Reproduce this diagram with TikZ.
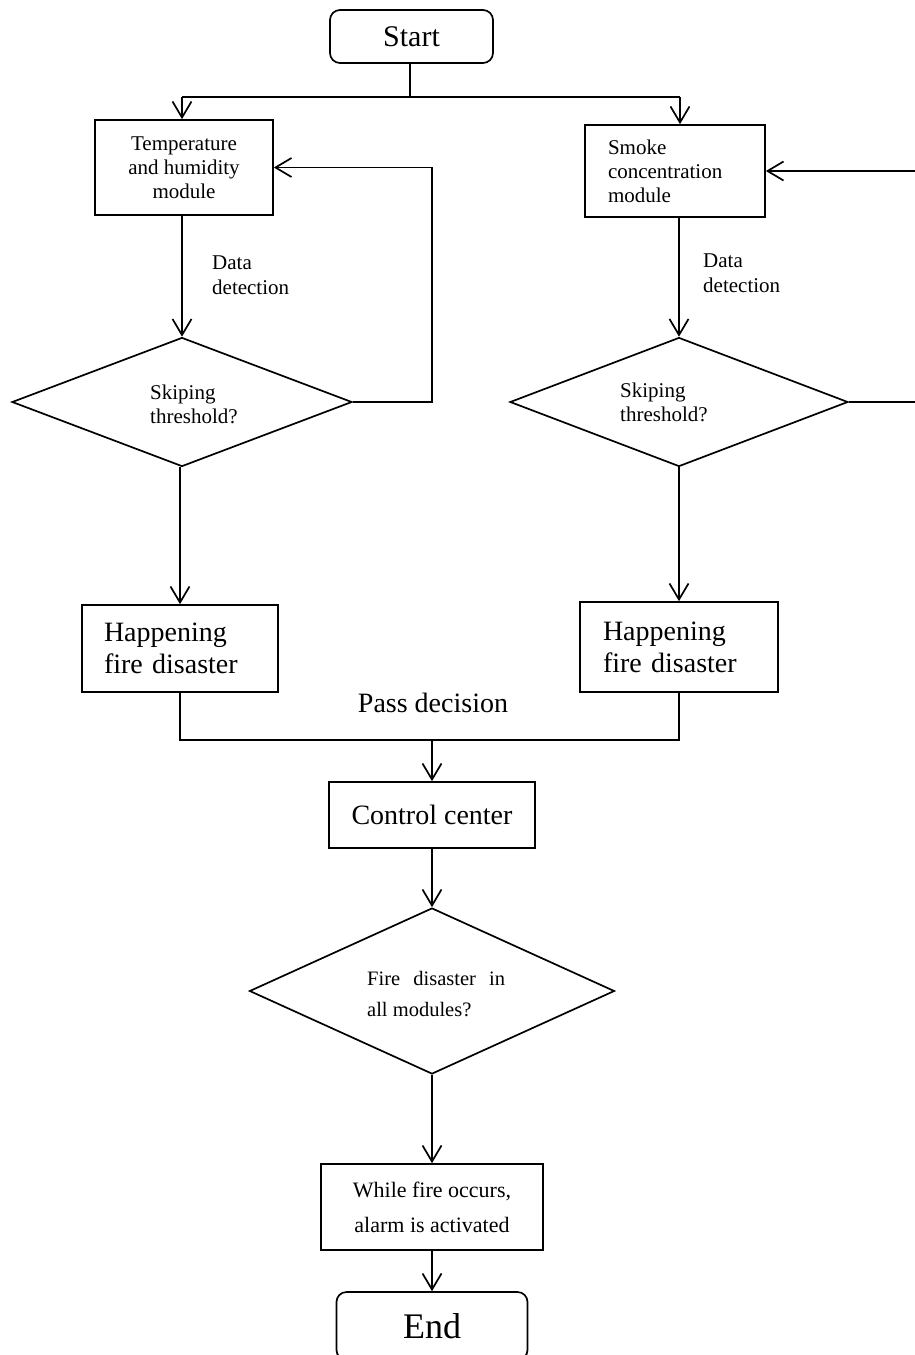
\documentclass[tikz,border=0pt]{standalone}
\usepackage{fontspec}
\setmainfont{Liberation Serif}
\usetikzlibrary{arrows.meta,shapes.geometric}
\begin{document}
\begin{tikzpicture}[x=1pt,y=-1pt,line width=1.7pt,
  arr/.style={-{Straight Barb[length=16pt,width=19pt,line width=1.7pt]}},
  box/.style={draw,rectangle,inner sep=0pt},
  term/.style={draw,rectangle,rounded corners=10pt,inner sep=0pt},
  dec/.style={draw,diamond,inner sep=0pt},
  small/.style={font=\fontsize{21}{24}\selectfont},
  big/.style={font=\fontsize{28}{32}\selectfont}]
\useasboundingbox (0,0) rectangle (915,1355);
% nodes
\node[term,minimum width=163pt,minimum height=53pt,font=\fontsize{30}{34}\selectfont] (start) at (411.5,36.5) {Start};
\node[box,minimum width=178pt,minimum height=95pt,small,align=center] (th) at (184,167.5) {Temperature\\and humidity\\module};
\node[box,minimum width=180pt,minimum height=92pt,small,align=left,text width=134pt,inner xsep=23pt] (sm) at (675,171) {Smoke\\concentration\\module};
\node[dec,minimum width=340pt,minimum height=129pt] (ld) at (182,402) {};
\node[dec,minimum width=338pt,minimum height=129pt] (rd) at (679,402) {};
\node[small,anchor=west,align=left] (ldt) at (146,404) {Skiping\\threshold?};
\node[small,anchor=west,align=left] (rdt) at (616,402) {Skiping\\threshold?};
\node[small,anchor=west,align=left,font=\fontsize{21}{25}\selectfont] (dd1) at (208,275) {Data\\detection};
\node[small,anchor=west,align=left,font=\fontsize{21}{25}\selectfont] (dd2) at (699,273) {Data\\detection};
\node[box,minimum width=196pt,minimum height=87pt,big,align=left,text width=152pt,inner xsep=22pt] (hl) at (180,648.5) {Happening\\fire disaster};
\node[box,minimum width=198pt,minimum height=90pt,big,align=left,text width=152pt,inner xsep=23pt] (hr) at (679,647) {Happening\\fire disaster};
\node[big] (pass) at (433,703) {Pass decision};
\node[box,minimum width=206pt,minimum height=66pt,big] (cc) at (432,815) {Control center};
\node[dec,minimum width=365pt,minimum height=166pt] (fd) at (432,991) {};
\node[anchor=west,align=left,font=\fontsize{20.5}{31}\selectfont] (fdt) at (363,994) {\makebox[138pt][s]{Fire disaster in}\\all modules?};
\node[box,minimum width=222pt,minimum height=86pt,align=center,font=\fontsize{22}{35}\selectfont] (al) at (432,1207) {While fire occurs,\\alarm is activated};
\node[term,minimum width=191pt,minimum height=68pt,font=\fontsize{36}{40}\selectfont] (en) at (432,1326) {End};
% connectors
\coordinate (s1) at (410,97);
\coordinate (sl) at (182,97);
\coordinate (sr) at (680,97);
\draw (start.south -| s1) -- (s1);
\draw (sl) -- (sr);
\draw[arr] (sl) -- (sl |- th.north);
\draw[arr] (sr) -- (sr |- sm.north);
\draw[arr] (th.south -| ld.north) -- (ld.north);
\draw[arr] (sm.south -| rd.north) -- (rd.north);
\coordinate (fl) at (432,402);
\draw[arr] (ld.east) -- (fl) -- (fl |- th.east) -- (th.east);
\coordinate (fr) at (930,402);
\draw[arr] (rd.east) -- (fr) -- (fr |- sm.east) -- (sm.east);
\draw[arr] (ld.south -| hl.north) -- (hl.north);
\draw[arr] (rd.south) -- (hr.north);
\coordinate (m) at (432,740);
\draw (hl.south) -- (hl.south |- m) -- (hr.south |- m) -- (hr.south);
\draw[arr] (m) -- (m |- cc.north);
\draw[arr] (cc.south) -- (fd.north);
\draw[arr] (fd.south) -- (al.north);
\draw[arr] (al.south) -- (en.north);
\end{tikzpicture}
\end{document}
